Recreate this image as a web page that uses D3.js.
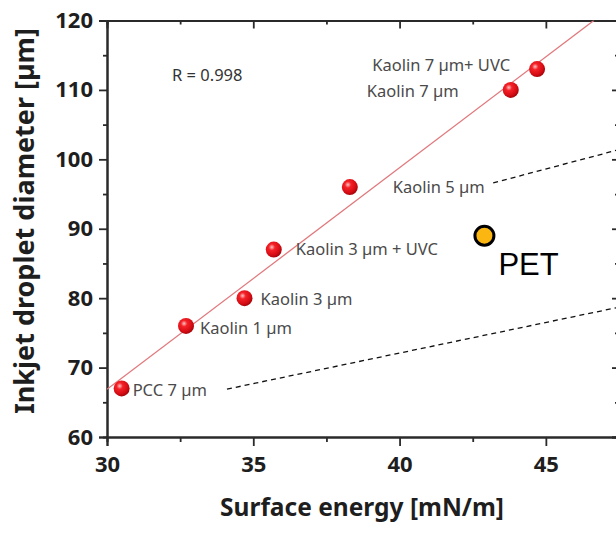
<!DOCTYPE html>
<html><head><meta charset="utf-8">
<script src="https://cdn.jsdelivr.net/npm/d3@7/dist/d3.min.js"></script>
<style>body{margin:0;background:#fff} svg{display:block}</style>
</head><body><svg id="c" width="616" height="533"></svg>
<script>
// ---- data ----
const samples = ["PCC 7 µm","Kaolin 1 µm","Kaolin 3 µm","Kaolin 3 µm + UVC","Kaolin 5 µm","Kaolin 7 µm","Kaolin 7 µm+ UVC"];
const surfaceEnergy = [30.5, 32.7, 34.7, 35.7, 38.3, 43.8, 44.7];
const dropletDiameter = [67, 76, 80, 87, 96, 110, 113];
const petX = 42.9, petY = 89, petLabel = "PET";
const rLabel = "R = 0.998";
const xTicks = [30, 35, 40, 45];
const xMinorTicks = [32.5, 37.5, 42.5, 47.5];
const yTicks = [60, 70, 80, 90, 100, 110, 120];
const yMinorTicks = [65, 75, 85, 95, 105, 115];
const dashLower = [[34.1, 66.9], [47.5, 78.7]];
const dashUpper = [[43.2, 96.6], [47.5, 101.4]];
const xTitle = "Surface energy [mN/m]";
const yTitle = "Inkjet droplet diameter [µm]";

// ---- layout / style ----
const W = 616, H = 533;
const m = {left: 107, right: 619, top: 20.5, bottom: 437};
const labelOffsets = [[11,2,"start"],[14,2,"start"],[16,1,"start"],[22,0,"start"],[43,0,"start"],[-52,1,"end"],[-27,-4,"end"]];

const svg = d3.select("#c");
const x = d3.scaleLinear().domain([30, 47.5]).range([m.left, m.right]);
const y = d3.scaleLinear().domain([60, 120]).range([m.bottom, m.top]);

const defs = svg.append("defs");
const g = defs.append("radialGradient").attr("id","sph").attr("cx","38%").attr("cy","35%").attr("r","65%");
g.append("stop").attr("offset","0%").attr("stop-color","#ffc4c4");
g.append("stop").attr("offset","30%").attr("stop-color","#f42228");
g.append("stop").attr("offset","75%").attr("stop-color","#d80c14");
g.append("stop").attr("offset","100%").attr("stop-color","#a8060c");
defs.append("clipPath").attr("id","clip").append("rect")
  .attr("x", m.left).attr("y", m.top).attr("width", m.right - m.left).attr("height", m.bottom - m.top);

const axisColor = "#2a2a2a";
const tickFont = "'Noto Sans', 'Open Sans', sans-serif";

// axes
svg.append("g").attr("transform",`translate(${m.left},0)`)
  .call(d3.axisLeft(y).tickValues(yTicks).tickSize(8).tickPadding(6).tickFormat(d3.format("d")));
svg.append("g").attr("transform",`translate(${m.left},0)`)
  .call(d3.axisLeft(y).tickValues(yMinorTicks).tickSize(4).tickFormat(""));
svg.append("g").attr("transform",`translate(0,${m.bottom})`)
  .call(d3.axisBottom(x).tickValues(xTicks).tickSize(9).tickPadding(10).tickFormat(d3.format("d")));
svg.append("g").attr("transform",`translate(0,${m.bottom})`)
  .call(d3.axisBottom(x).tickValues(xMinorTicks).tickSize(5).tickFormat(""));
const topAx = svg.append("g").attr("transform",`translate(0,${m.top})`)
  .call(d3.axisBottom(x).tickValues(xTicks).tickSize(8).tickFormat(""));
svg.append("g").attr("transform",`translate(0,${m.top})`)
  .call(d3.axisBottom(x).tickValues(xMinorTicks).tickSize(4).tickFormat(""));
svg.append("g").attr("transform",`translate(${m.right},0)`)
  .call(d3.axisLeft(y).tickValues(yTicks).tickSize(7).tickFormat(""));
svg.append("g").attr("transform",`translate(${m.right},0)`)
  .call(d3.axisLeft(y).tickValues(yMinorTicks).tickSize(4).tickFormat(""));

svg.selectAll(".domain").attr("stroke", axisColor).attr("stroke-width", 2);
svg.selectAll(".tick line").attr("stroke", axisColor).attr("stroke-width", 1.8);
svg.selectAll(".tick text").attr("fill","#1e1e1e").style("font-family", tickFont)
  .style("font-size","22px").style("font-weight","700");
topAx.select(".domain").attr("stroke","#555");

// axis titles
svg.append("text").attr("x", 362).attr("y", 516).attr("text-anchor","middle")
  .style("font-family", tickFont).style("font-size","24.5px").style("font-weight","700").attr("fill","#1e1e1e")
  .text(xTitle);
svg.append("text").attr("transform",`translate(34,221) rotate(-90)`).attr("text-anchor","middle")
  .style("font-family", tickFont).style("font-size","27px").style("font-weight","700").attr("fill","#1e1e1e")
  .text(yTitle);

// fit line (least squares)
const n = surfaceEnergy.length;
const mx = d3.mean(surfaceEnergy), my = d3.mean(dropletDiameter);
let sxy = 0, sxx = 0;
for (let i = 0; i < n; i++) { sxy += (surfaceEnergy[i]-mx)*(dropletDiameter[i]-my); sxx += (surfaceEnergy[i]-mx)**2; }
const slope = sxy/sxx, icpt = my - slope*mx;
const xEnd = (120 - icpt)/slope;
svg.append("line").attr("clip-path","url(#clip)")
  .attr("x1", x(30)).attr("y1", y(icpt + slope*30))
  .attr("x2", x(xEnd)).attr("y2", y(120))
  .attr("stroke","#e0787c").attr("stroke-width",1.3);

// dashed lines
const line = d3.line().x(d => x(d[0])).y(d => y(d[1]));
[dashLower, dashUpper].forEach(d => svg.append("path").attr("d", line(d))
  .attr("fill","none").attr("stroke","#111").attr("stroke-width",1.3).attr("stroke-dasharray","5,4"));

// points
const pts = samples.map((s,i) => ({s, x: surfaceEnergy[i], y: dropletDiameter[i], o: labelOffsets[i]}));
svg.selectAll("circle.pt").data(pts).join("circle").attr("class","pt")
  .attr("cx", d => x(d.x)).attr("cy", d => y(d.y)).attr("r", 8).attr("fill","url(#sph)");
svg.selectAll("text.lab").data(pts).join("text").attr("class","lab")
  .attr("x", d => x(d.x) + d.o[0]).attr("y", d => y(d.y) + d.o[1]).attr("dy","0.35em")
  .attr("text-anchor", d => d.o[2])
  .style("font-family", tickFont).style("font-size","16.5px").attr("fill","#4a4a4a")
  .text(d => d.s);

svg.append("text").attr("x", 172).attr("y", 75).attr("dy","0.35em")
  .style("font-family", tickFont).style("font-size","16.5px").attr("fill","#333").text(rLabel);

// PET
svg.append("circle").attr("cx", x(petX)).attr("cy", y(petY)).attr("r", 9.5)
  .attr("fill","#fbb612").attr("stroke","#000").attr("stroke-width",3);
svg.append("text").attr("x", x(petX) + 14).attr("y", y(petY) + 39)
  .style("font-family","'Liberation Sans', Arial, sans-serif").style("font-size","31px").attr("fill","#000")
  .text(petLabel);
</script></body></html>
